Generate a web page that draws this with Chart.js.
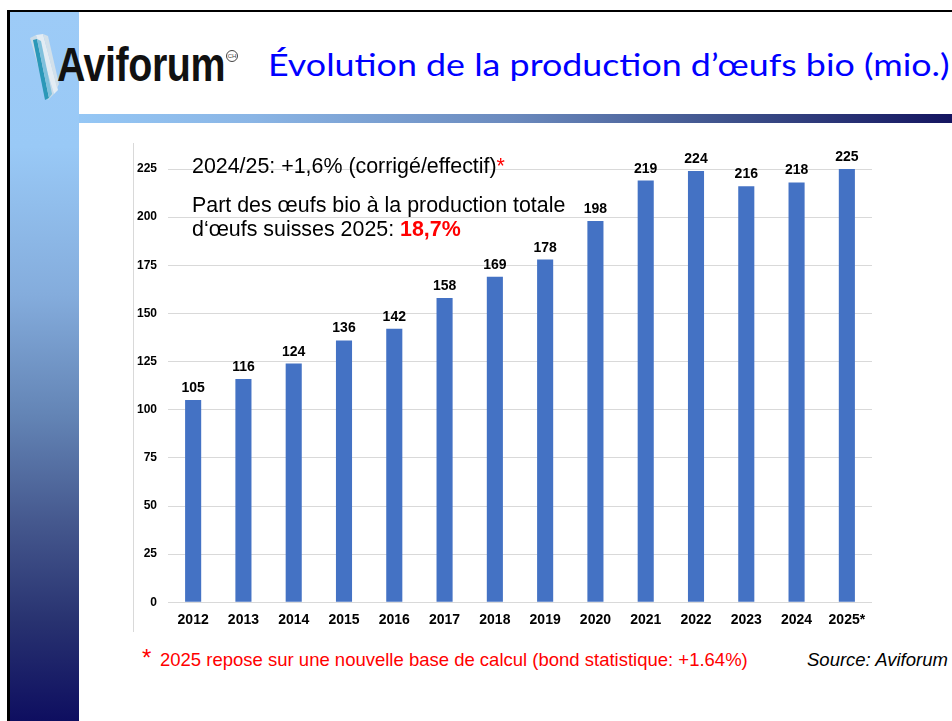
<!DOCTYPE html>
<html>
<head>
<meta charset="utf-8">
<script src="https://cdn.jsdelivr.net/npm/chart.js@4"></script>
<style>
  html,body{margin:0;padding:0;background:#fff;}
  body{width:952px;height:721px;position:relative;overflow:hidden;font-family:"Liberation Sans",Arial,sans-serif;}
  .abs{position:absolute;white-space:nowrap;line-height:1;}
  #frame{position:absolute;left:7px;top:10px;width:960px;height:720px;border-top:2px solid #000;border-left:3px solid #000;}
  #leftbar{position:absolute;left:10px;top:12px;width:69px;height:709px;
    background:linear-gradient(to bottom,#9dcbf7 0%,#99c9f6 19%,#84acdc 40%,#6384b5 57%,#45588e 72%,#283270 86%,#0e0e60 100%);}
  #hbar{position:absolute;left:79px;top:114px;width:873px;height:9px;
    background:linear-gradient(to right,#95c7f5 0%,#8ab5e5 20%,#6a89bd 50%,#3d508a 75%,#141560 100%);}
  #header{position:absolute;left:79px;top:12px;width:873px;height:102px;background:#fff;}
  #chartwrap{position:absolute;left:134px;top:140px;width:760px;height:500px;}
  #vline{position:absolute;left:133px;top:143px;width:1px;height:489px;background:#d9d9d9;}
</style>
</head>
<body>
<div id="frame"></div>
<div id="leftbar"></div>
<div id="header"></div>
<div id="hbar"></div>

<svg class="abs" style="left:28px;top:32px" width="40" height="72" viewBox="0 0 40 72">
  <polygon points="2,6 8,3 26,62 20,68" fill="#c9dbe8"/>
  <polygon points="8,3 15,2 30,58 26,62" fill="#e3ecf3"/>
  <polygon points="15,2 20,4 31,52 29,56" fill="#d2e0ea"/>
  <polygon points="5,8 9,7 21,66 17,68" fill="#2b98b8"/>
  <polygon points="9,7 13,9 24,62 21,66" fill="#7fc0dc"/>
</svg>
<div class="abs" style="left:57px;top:41px;font-size:48px;font-weight:bold;color:#111;transform:scaleX(0.82);transform-origin:left top;letter-spacing:-0.5px;">Aviforum</div>
<div class="abs" style="left:226px;top:50px;width:10px;height:10px;border:1px solid #444;border-radius:50%;font-size:6px;line-height:10px;text-align:center;color:#444;">CH</div>

<div id="title" class="abs" style="left:268px;top:49px;font-size:31px;color:#0000ff;font-family:'URW Gothic','Century Gothic','Lato',sans-serif;transform:scaleX(1.155);transform-origin:left top;">Évolution de la production d’œufs bio (mio.)</div>

<div id="vline"></div>
<div id="chartwrap"><canvas id="c"></canvas></div>

<div class="abs" style="left:192px;top:156px;font-size:21.4px;color:#000;">2024/25: +1,6% (corrigé/effectif)<span style="color:#ff0000">*</span></div>
<div class="abs" style="left:192px;top:194.5px;font-size:21.4px;color:#000;">Part des œufs bio à la production totale</div>
<div class="abs" style="left:192px;top:219px;font-size:21.4px;color:#000;">d‘œufs suisses 2025: <b style="color:#ff0000">18,7%</b></div>

<div class="abs" style="left:142px;top:646px;font-size:24px;color:#ff0000;">*</div>
<div class="abs" style="left:160px;top:651px;font-size:18.5px;color:#ff0000;">2025 repose sur une nouvelle base de calcul (bond statistique: +1.64%)</div>
<div class="abs" style="left:807px;top:651px;font-size:18.5px;color:#000;font-style:italic;">Source: Aviforum</div>

<script>
const categories = ["2012","2013","2014","2015","2016","2017","2018","2019","2020","2021","2022","2023","2024","2025*"];
const production = [105,116,124,136,142,158,169,178,198,219,224,216,218,225];
const yMin = 0, yMax = 225, yStep = 25;

const valueLabels = {
  id: 'valueLabels',
  afterDatasetsDraw(chart) {
    const ctx = chart.ctx;
    const meta = chart.getDatasetMeta(0);
    ctx.save();
    ctx.font = 'bold 14px "Liberation Sans", Arial, sans-serif';
    ctx.fillStyle = '#000';
    ctx.textAlign = 'center';
    ctx.textBaseline = 'alphabetic';
    meta.data.forEach((bar, i) => {
      ctx.fillText(String(chart.data.datasets[0].data[i]), bar.x, bar.y - 8);
    });
    ctx.restore();
  }
};

new Chart(document.getElementById('c'), {
  type: 'bar',
  data: {
    labels: categories,
    datasets: [{
      data: production,
      backgroundColor: '#4472c4',
      borderWidth: 0,
      barPercentage: 0.32,
      categoryPercentage: 1
    }]
  },
  options: {
    responsive: true,
    maintainAspectRatio: false,
    animation: false,
    layout: { padding: { top: 29, right: 22, left: 0, bottom: 0 } },
    plugins: { legend: { display: false }, tooltip: { enabled: false } },
    scales: {
      y: {
        min: yMin, max: yMax,
        ticks: { stepSize: yStep, color: '#000', padding: 11,
          font: { family: '"Liberation Sans", Arial, sans-serif', weight: 'bold', size: 12 } },
        grid: { color: '#d9d9d9', drawTicks: false, lineWidth: 1 },
        border: { display: false },
        afterFit(s) { s.width = 34; }
      },
      x: {
        ticks: { color: '#000', padding: 9,
          font: { family: '"Liberation Sans", Arial, sans-serif', weight: 'bold', size: 14 } },
        grid: { display: false, drawTicks: false },
        border: { display: false },
        afterFit(s) { s.height = 37.7; }
      }
    }
  },
  plugins: [valueLabels]
});
</script>
</body>
</html>
